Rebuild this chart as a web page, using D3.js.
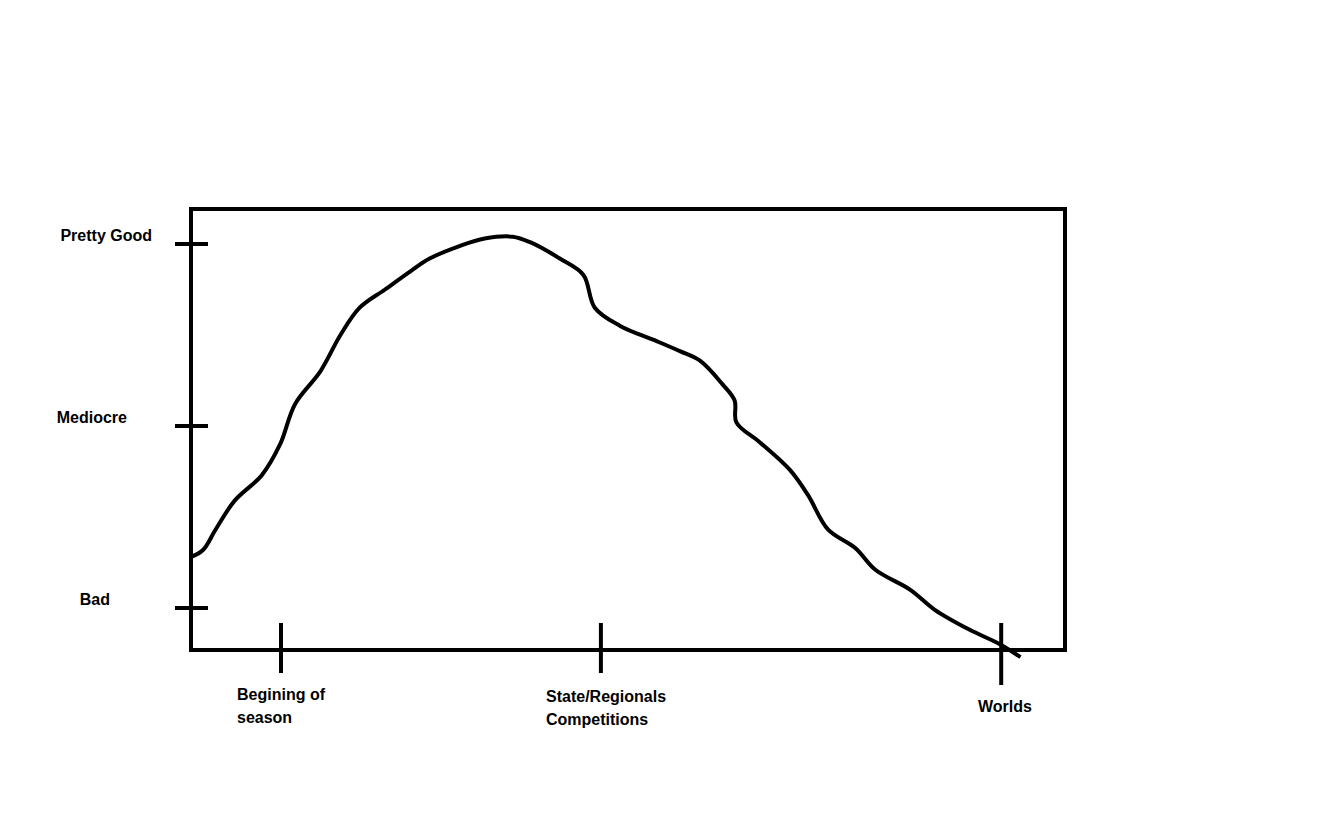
<!DOCTYPE html>
<html><head><meta charset="utf-8">
<script src="https://d3js.org/d3.v7.min.js"></script>
<style>body{margin:0;background:#fff}</style></head>
<body><svg id="c" width="1340" height="814"></svg>
<script>
const yTickValues=[0,1,2];
const yTickLabels=["Bad","Mediocre","Pretty Good"];
const xTickValues=[10.3,46.9,92.7];
const xTickLabels=[["Begining of","season"],["State/Regionals","Competitions"],["Worlds"]];
const curveX=[0,1.4,2.8,5.0,8.1,10.2,11.9,14.8,17.1,19.3,22.2,25.1,27.3,30.8,33.6,36.8,38.8,42.2,44.9,46.2,49.1,53.1,56.0,58.2,60.8,62.2,62.4,65.1,68.5,70.6,72.9,76.0,78.3,82.3,85.1,89.1,92.6,94.9];
const curveY=[0.28,0.32,0.43,0.59,0.73,0.90,1.12,1.30,1.50,1.65,1.75,1.85,1.92,1.99,2.03,2.04,2.01,1.92,1.83,1.65,1.55,1.47,1.41,1.36,1.23,1.14,1.02,0.91,0.76,0.62,0.43,0.33,0.21,0.10,-0.01,-0.12,-0.20,-0.27];

const svg=d3.select("#c");
const x=d3.scaleLinear().domain([0,100]).range([191,1065]);
const y=d3.scaleLinear().domain([0,2]).range([608,244]);
const font="'Liberation Sans',Arial,sans-serif";

svg.append("rect").attr("x",191).attr("y",209).attr("width",874).attr("height",441)
  .attr("fill","none").attr("stroke","#000").attr("stroke-width",4);

const yt=svg.append("g");
yTickValues.forEach((v,i)=>{
  yt.append("line").attr("x1",175).attr("x2",208).attr("y1",y(v)).attr("y2",y(v)).attr("stroke","#000").attr("stroke-width",4);
  yt.append("text").attr("x",152).attr("y",y(v)-3).attr("text-anchor","end")
    .attr("font-family",font).attr("font-weight","bold").attr("font-size",16).text(yTickLabels[i])
    .attr("x",i==0?110:(i==1?127:152));
});
const xt=svg.append("g");
xTickValues.forEach((v,i)=>{
  xt.append("line").attr("x1",x(v)).attr("x2",x(v)).attr("y1",623).attr("y2",i==2?685:673).attr("stroke","#000").attr("stroke-width",4);
  const lines=xTickLabels[i];
  const lx=[237,546,978][i], ly=[700,702,712][i];
  lines.forEach((t,j)=>xt.append("text").attr("x",lx).attr("y",ly+j*23)
    .attr("font-family",font).attr("font-weight","bold").attr("font-size",16).text(t));
});

const pts=curveX.map((d,i)=>[d,curveY[i]]);
svg.append("path").datum(pts)
  .attr("d",d3.line().x(d=>x(d[0])).y(d=>y(d[1])).curve(d3.curveCatmullRom))
  .attr("fill","none").attr("stroke","#000").attr("stroke-width",4).attr("stroke-linejoin","round");
</script></body></html>
